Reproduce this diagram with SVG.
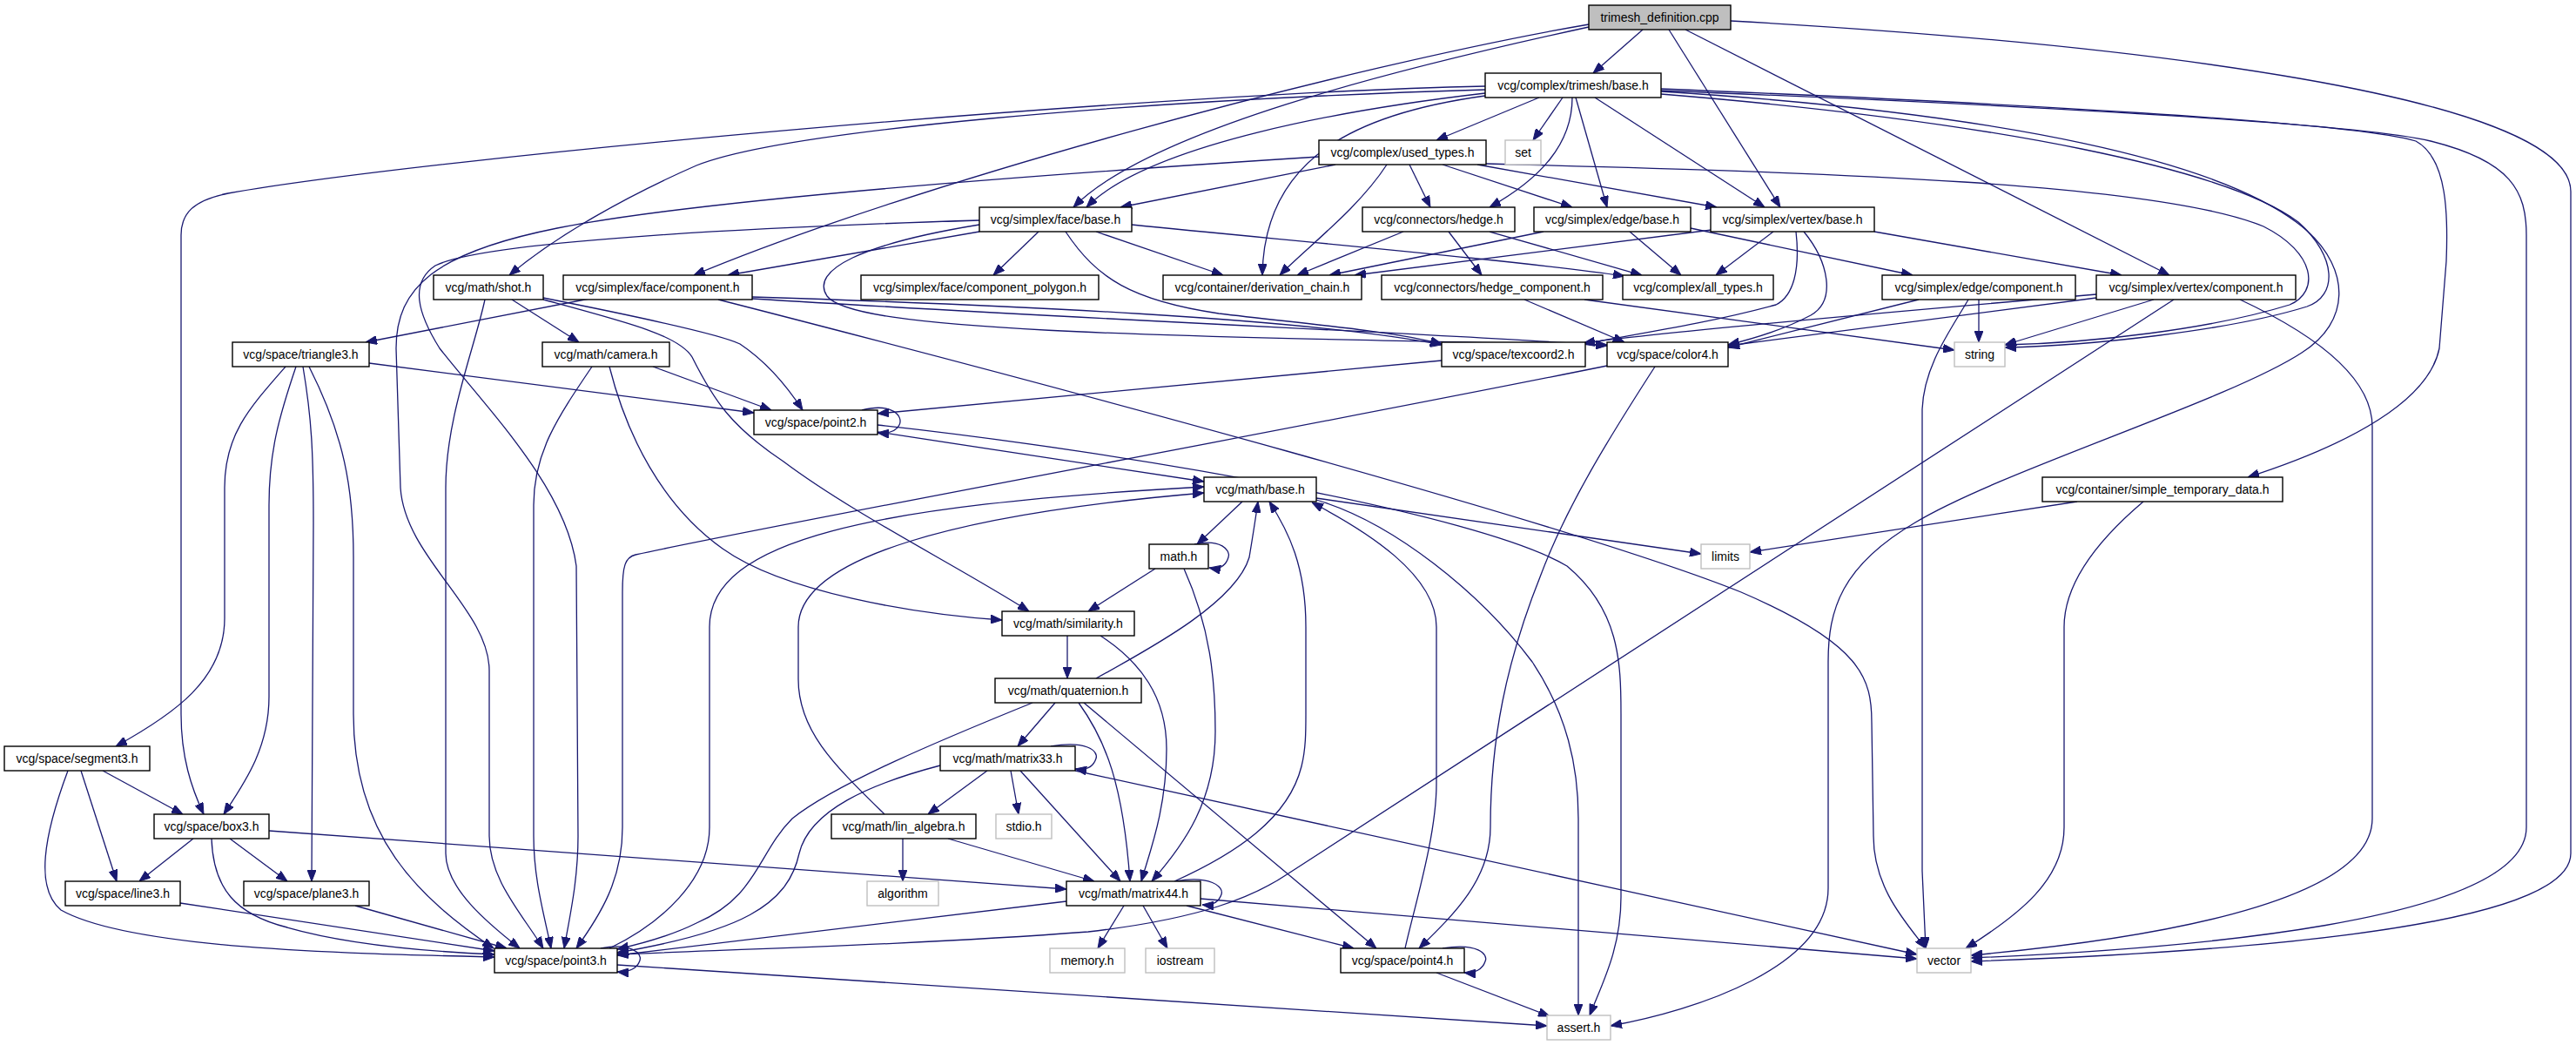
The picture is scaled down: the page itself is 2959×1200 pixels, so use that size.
<svg xmlns="http://www.w3.org/2000/svg" width="2959" height="1200" viewBox="0 0 2959 1200">
<style>
.node rect{fill:#fff;stroke:#000;stroke-width:1.4}
.ext rect{fill:#fff;stroke:#bfbfbf;stroke-width:1.4}
.root rect{fill:#bfbfbf;stroke:#000;stroke-width:1.4}
text{font-family:"Liberation Sans",Arial,Helvetica,sans-serif;font-size:14px;text-anchor:middle;fill:#000}
.edges path{fill:none;stroke:#191970;stroke-width:1.3;marker-end:url(#arr)}
</style>
<defs>
<marker id="arr" markerWidth="13" markerHeight="10" refX="13" refY="5" orient="auto" markerUnits="userSpaceOnUse"><path d="M0,0 L13,5 L0,10 z" fill="#191970" stroke="#191970" stroke-width="1"/></marker>
</defs>
<rect width="2959" height="1200" fill="#fff"/>
<g class="edges">
<path d="M1887,34 L1830,84"/>
<path d="M1917,34 L2045,238"/>
<path d="M1936,34 L2492,316"/>
<path d="M1988,24 C2450,50 2953,110 2953,220 L2953,980 C2953,1070 2520,1095 2264,1104"/>
<path d="M1825,31 C1600,80 1320,150 1233,238"/>
<path d="M1825,28 C1550,75 1050,210 797,316"/>
<path d="M1768,112 L1650,161"/>
<path d="M1795,112 L1761,161"/>
<path d="M1806,112 C1806,165 1770,205 1711,238"/>
<path d="M1810,112 L1846,238"/>
<path d="M1832,112 L2027,238"/>
<path d="M1706,107 C1550,125 1320,165 1248,238"/>
<path d="M1706,99 C1300,108 500,180 262,222 C222,230 208,245 208,270 L208,820 C208,870 220,905 234,935"/>
<path d="M1706,103 C1300,115 900,150 800,190 C720,225 640,270 585,316"/>
<path d="M1706,110 C1560,130 1452,180 1450,316"/>
<path d="M1908,102 C2300,118 2700,140 2775,162 C2812,182 2812,250 2810,300 L2802,400 C2790,460 2700,510 2582,548"/>
<path d="M1908,104 C2300,120 2700,140 2792,162 C2885,185 2902,220 2902,270 L2902,950 C2902,1060 2500,1090 2264,1100"/>
<path d="M1908,108 C2300,140 2560,195 2640,255 C2685,295 2685,340 2650,352 C2560,380 2400,397 2303,399"/>
<path d="M1908,105 C2300,130 2560,185 2650,265 C2700,310 2700,370 2644,405 C2560,460 2300,540 2200,600 C2115,650 2100,700 2100,760 L2100,1020 C2100,1110 1950,1160 1850,1178"/>
<path d="M1707,188 C2100,198 2480,210 2600,260 C2660,290 2665,335 2630,350 C2540,378 2400,394 2303,396"/>
<path d="M1515,180 C1200,200 800,230 640,262 C500,290 455,330 455,400 L460,560 C465,640 562,700 562,770 L562,960 C562,1010 600,1050 624,1089"/>
<path d="M1534,189 L1287,238"/>
<path d="M1593,189 C1560,240 1500,285 1470,316"/>
<path d="M1619,189 L1643,238"/>
<path d="M1657,189 L1806,238"/>
<path d="M1697,189 L1972,238"/>
<path d="M1612,266 L1490,316"/>
<path d="M1664,266 L1702,316"/>
<path d="M1711,266 L1886,316"/>
<path d="M1773,266 L1527,316"/>
<path d="M1872,266 L1931,316"/>
<path d="M1942,262 L2197,316"/>
<path d="M1966,264 L1556,316"/>
<path d="M2037,266 L1971,316"/>
<path d="M2153,266 L2437,316"/>
<path d="M2063,266 C2068,310 2060,340 2040,350 C1960,372 1870,385 1819,395"/>
<path d="M2072,266 C2100,300 2110,345 2080,362 C2050,378 2010,390 1985,396"/>
<path d="M1125,266 L836,316"/>
<path d="M1193,266 L1141,316"/>
<path d="M1259,266 L1405,316"/>
<path d="M1300,258 C1500,278 1750,300 1866,317"/>
<path d="M1125,253 C900,260 560,275 500,305 C470,325 480,360 505,400 C560,470 650,560 662,650 L664,960 C664,1010 655,1050 648,1089"/>
<path d="M1224,266 C1260,320 1300,345 1400,360 C1500,372 1600,380 1656,395"/>
<path d="M1125,258 C990,280 930,310 950,340 C980,380 1300,386 1846,396"/>
<path d="M677,343 L420,393"/>
<path d="M825,344 C1200,440 1800,600 2000,680 C2140,740 2150,780 2150,830 L2152,960 C2152,1020 2190,1060 2212,1089"/>
<path d="M864,341 C1150,350 1500,365 1656,396"/>
<path d="M864,343 C1300,370 1700,385 1846,397"/>
<path d="M557,344 C545,400 512,480 512,560 L512,980 C512,1020 560,1060 597,1089"/>
<path d="M588,344 L665,393"/>
<path d="M624,342 C740,365 830,385 850,395 C880,415 905,445 922,471"/>
<path d="M624,344 C720,370 780,385 795,410 C820,460 840,490 900,530 C980,590 1100,650 1182,702"/>
<path d="M750,421 L886,471"/>
<path d="M424,417 L866,474"/>
<path d="M680,421 C640,480 613,520 613,580 L613,960 C613,1010 625,1050 633,1089"/>
<path d="M700,421 C720,500 760,580 830,630 C900,680 1050,705 1151,712"/>
<path d="M328,421 C285,470 258,500 258,560 L258,710 C258,780 200,820 133,857"/>
<path d="M340,421 C320,480 309,520 309,580 L309,800 C309,860 280,900 257,935"/>
<path d="M348,421 C358,480 360,520 360,600 L358,1012"/>
<path d="M355,421 C395,500 406,560 406,640 L406,820 C406,960 480,1030 567,1089"/>
<path d="M118,885 L210,935"/>
<path d="M93,885 L134,1012"/>
<path d="M78,885 C50,960 40,1020 70,1045 C150,1090 400,1095 568,1099"/>
<path d="M222,963 L160,1012"/>
<path d="M264,963 L330,1012"/>
<path d="M243,963 C245,1020 270,1050 330,1065 C400,1085 500,1093 568,1096"/>
<path d="M309,954 L1225,1021"/>
<path d="M207,1037 L568,1092"/>
<path d="M408,1040 L582,1089"/>
<path d="M990,471 C1025,462 1038,478 1033,488 C1029,496 1020,498 1008,497"/>
<path d="M1008,496 L1383,553"/>
<path d="M1656,414 L1008,475"/>
<path d="M1846,420 C1500,490 900,600 730,637 C718,640 715,650 715,680 L715,950 C715,1010 690,1050 662,1089"/>
<path d="M1008,488 C1300,520 1700,590 1800,650 C1860,700 1862,760 1862,820 L1862,1030 C1862,1090 1840,1130 1826,1166"/>
<path d="M1427,576 L1375,625"/>
<path d="M1512,572 L1954,636"/>
<path d="M1512,574 C1600,600 1700,680 1760,760 C1800,820 1813,880 1813,940 L1813,1166"/>
<path d="M1372,625 C1402,618 1414,632 1411,640 C1408,650 1400,654 1389,652"/>
<path d="M1327,653 L1250,702"/>
<path d="M1360,653 C1390,720 1396,780 1396,840 C1396,920 1360,970 1323,1012"/>
<path d="M1226,730 L1226,779"/>
<path d="M1264,730 C1310,760 1340,800 1340,860 C1340,930 1320,980 1311,1012"/>
<path d="M1259,779 C1330,740 1420,690 1435,640 C1440,610 1443,590 1445,576"/>
<path d="M1212,807 L1169,857"/>
<path d="M1239,807 C1270,850 1290,900 1298,1012"/>
<path d="M1245,807 L1581,1089"/>
<path d="M1186,807 C1080,850 960,900 910,940 C870,980 870,1030 800,1060 C770,1075 740,1083 709,1090"/>
<path d="M1207,857 C1247,850 1262,862 1259,871 C1256,880 1248,885 1235,883"/>
<path d="M1134,885 L1066,935"/>
<path d="M1161,885 L1170,935"/>
<path d="M1172,885 L1287,1012"/>
<path d="M1080,879 C1000,900 930,930 918,980 C905,1040 850,1070 709,1094"/>
<path d="M1235,885 L2202,1096"/>
<path d="M1016,935 C960,880 917,840 917,780 L917,720 C917,640 1100,590 1383,566"/>
<path d="M1037,963 L1037,1012"/>
<path d="M1089,963 L1257,1012"/>
<path d="M1350,1012 C1390,1005 1406,1018 1403,1027 C1400,1036 1393,1040 1381,1039"/>
<path d="M1349,1012 C1420,980 1480,940 1495,880 C1500,860 1500,840 1500,820 L1500,720 C1500,650 1480,610 1458,576"/>
<path d="M1291,1040 L1261,1089"/>
<path d="M1313,1040 L1341,1089"/>
<path d="M1363,1040 L1555,1089"/>
<path d="M1379,1032 L2202,1101"/>
<path d="M1225,1035 L709,1097"/>
<path d="M690,1089 C725,1082 738,1095 735,1103 C732,1112 722,1117 709,1116"/>
<path d="M700,1089 C760,1060 815,1010 815,950 L815,720 C815,620 1000,580 1383,559"/>
<path d="M709,1108 L1777,1178"/>
<path d="M1657,1089 C1697,1082 1710,1096 1706,1104 C1703,1113 1694,1118 1682,1117"/>
<path d="M1614,1089 C1625,1040 1650,960 1650,900 L1650,720 C1650,660 1570,610 1507,577"/>
<path d="M1650,1117 L1780,1167"/>
<path d="M1901,421 C1850,500 1800,580 1770,660 C1730,760 1712,850 1712,950 C1712,1010 1670,1050 1630,1089"/>
<path d="M2386,576 L2010,634"/>
<path d="M2462,576 C2410,620 2371,670 2371,720 L2371,950 C2371,1010 2320,1050 2258,1089"/>
<path d="M1751,344 L1866,393"/>
<path d="M1820,344 L2245,402"/>
<path d="M2273,344 L2273,393"/>
<path d="M2204,344 L1985,399"/>
<path d="M2261,344 C2240,380 2210,420 2208,470 L2208,1000 L2212,1089"/>
<path d="M2497,344 L1480,1003 C1440,1030 1380,1055 1250,1070 C1050,1085 850,1090 709,1096"/>
<path d="M2474,344 L2303,396"/>
<path d="M2408,342 L1985,397"/>
<path d="M2408,338 C2150,360 1900,382 1819,394"/>
<path d="M2573,344 C2650,380 2725,430 2725,490 L2725,940 C2725,1040 2450,1080 2264,1097"/>
</g>
<g id="n_trimesh_definition" class="root"><rect x="1825" y="6" width="163" height="28"/><text x="1906.5" y="25">trimesh_definition.cpp</text></g>
<g id="n_trimesh_base" class="node"><rect x="1706" y="84" width="202" height="28"/><text x="1807" y="103">vcg/complex/trimesh/base.h</text></g>
<g id="n_used_types" class="node"><rect x="1515" y="161" width="192" height="28"/><text x="1611" y="180">vcg/complex/used_types.h</text></g>
<g id="n_set" class="ext"><rect x="1729" y="161" width="41" height="28"/><text x="1749.5" y="180">set</text></g>
<g id="n_face_base" class="node"><rect x="1125" y="238" width="175" height="28"/><text x="1212.5" y="257">vcg/simplex/face/base.h</text></g>
<g id="n_hedge" class="node"><rect x="1565" y="238" width="175" height="28"/><text x="1652.5" y="257">vcg/connectors/hedge.h</text></g>
<g id="n_edge_base" class="node"><rect x="1762" y="238" width="180" height="28"/><text x="1852" y="257">vcg/simplex/edge/base.h</text></g>
<g id="n_vertex_base" class="node"><rect x="1965" y="238" width="188" height="28"/><text x="2059" y="257">vcg/simplex/vertex/base.h</text></g>
<g id="n_shot" class="node"><rect x="498" y="316" width="126" height="28"/><text x="561" y="335">vcg/math/shot.h</text></g>
<g id="n_face_component" class="node"><rect x="647" y="316" width="217" height="28"/><text x="755.5" y="335">vcg/simplex/face/component.h</text></g>
<g id="n_component_polygon" class="node"><rect x="989" y="316" width="273" height="28"/><text x="1125.5" y="335">vcg/simplex/face/component_polygon.h</text></g>
<g id="n_derivation_chain" class="node"><rect x="1336" y="316" width="228" height="28"/><text x="1450" y="335">vcg/container/derivation_chain.h</text></g>
<g id="n_hedge_component" class="node"><rect x="1587" y="316" width="254" height="28"/><text x="1714" y="335">vcg/connectors/hedge_component.h</text></g>
<g id="n_all_types" class="node"><rect x="1864" y="316" width="173" height="28"/><text x="1950.5" y="335">vcg/complex/all_types.h</text></g>
<g id="n_edge_component" class="node"><rect x="2162" y="316" width="222" height="28"/><text x="2273" y="335">vcg/simplex/edge/component.h</text></g>
<g id="n_vertex_component" class="node"><rect x="2408" y="316" width="229" height="28"/><text x="2522.5" y="335">vcg/simplex/vertex/component.h</text></g>
<g id="n_triangle3" class="node"><rect x="267" y="393" width="157" height="28"/><text x="345.5" y="412">vcg/space/triangle3.h</text></g>
<g id="n_camera" class="node"><rect x="623" y="393" width="146" height="28"/><text x="696" y="412">vcg/math/camera.h</text></g>
<g id="n_texcoord2" class="node"><rect x="1656" y="393" width="165" height="28"/><text x="1738.5" y="412">vcg/space/texcoord2.h</text></g>
<g id="n_color4" class="node"><rect x="1846" y="393" width="139" height="28"/><text x="1915.5" y="412">vcg/space/color4.h</text></g>
<g id="n_string" class="ext"><rect x="2245" y="393" width="58" height="28"/><text x="2274" y="412">string</text></g>
<g id="n_point2" class="node"><rect x="866" y="471" width="142" height="28"/><text x="937" y="490">vcg/space/point2.h</text></g>
<g id="n_math_base" class="node"><rect x="1383" y="548" width="129" height="28"/><text x="1447.5" y="567">vcg/math/base.h</text></g>
<g id="n_simple_temporary_data" class="node"><rect x="2346" y="548" width="276" height="28"/><text x="2484" y="567">vcg/container/simple_temporary_data.h</text></g>
<g id="n_math_h" class="node"><rect x="1320" y="625" width="68" height="28"/><text x="1354" y="644">math.h</text></g>
<g id="n_limits" class="ext"><rect x="1954" y="625" width="56" height="28"/><text x="1982" y="644">limits</text></g>
<g id="n_similarity" class="node"><rect x="1151" y="702" width="152" height="28"/><text x="1227" y="721">vcg/math/similarity.h</text></g>
<g id="n_quaternion" class="node"><rect x="1143" y="779" width="168" height="28"/><text x="1227" y="798">vcg/math/quaternion.h</text></g>
<g id="n_segment3" class="node"><rect x="5" y="857" width="167" height="28"/><text x="88.5" y="876">vcg/space/segment3.h</text></g>
<g id="n_matrix33" class="node"><rect x="1080" y="857" width="155" height="28"/><text x="1157.5" y="876">vcg/math/matrix33.h</text></g>
<g id="n_box3" class="node"><rect x="177" y="935" width="132" height="28"/><text x="243" y="954">vcg/space/box3.h</text></g>
<g id="n_lin_algebra" class="node"><rect x="955" y="935" width="166" height="28"/><text x="1038" y="954">vcg/math/lin_algebra.h</text></g>
<g id="n_stdio" class="ext"><rect x="1144" y="935" width="64" height="28"/><text x="1176" y="954">stdio.h</text></g>
<g id="n_line3" class="node"><rect x="75" y="1012" width="132" height="28"/><text x="141" y="1031">vcg/space/line3.h</text></g>
<g id="n_plane3" class="node"><rect x="280" y="1012" width="144" height="28"/><text x="352" y="1031">vcg/space/plane3.h</text></g>
<g id="n_algorithm" class="ext"><rect x="996" y="1012" width="82" height="28"/><text x="1037" y="1031">algorithm</text></g>
<g id="n_matrix44" class="node"><rect x="1225" y="1012" width="154" height="28"/><text x="1302" y="1031">vcg/math/matrix44.h</text></g>
<g id="n_point3" class="node"><rect x="568" y="1089" width="141" height="28"/><text x="638.5" y="1108">vcg/space/point3.h</text></g>
<g id="n_memory" class="ext"><rect x="1206" y="1089" width="86" height="28"/><text x="1249" y="1108">memory.h</text></g>
<g id="n_iostream" class="ext"><rect x="1316" y="1089" width="79" height="28"/><text x="1355.5" y="1108">iostream</text></g>
<g id="n_point4" class="node"><rect x="1540" y="1089" width="142" height="28"/><text x="1611" y="1108">vcg/space/point4.h</text></g>
<g id="n_vector" class="ext"><rect x="2202" y="1089" width="62" height="28"/><text x="2233" y="1108">vector</text></g>
<g id="n_assert" class="ext"><rect x="1777" y="1166" width="73" height="28"/><text x="1813.5" y="1185">assert.h</text></g>
</svg>
